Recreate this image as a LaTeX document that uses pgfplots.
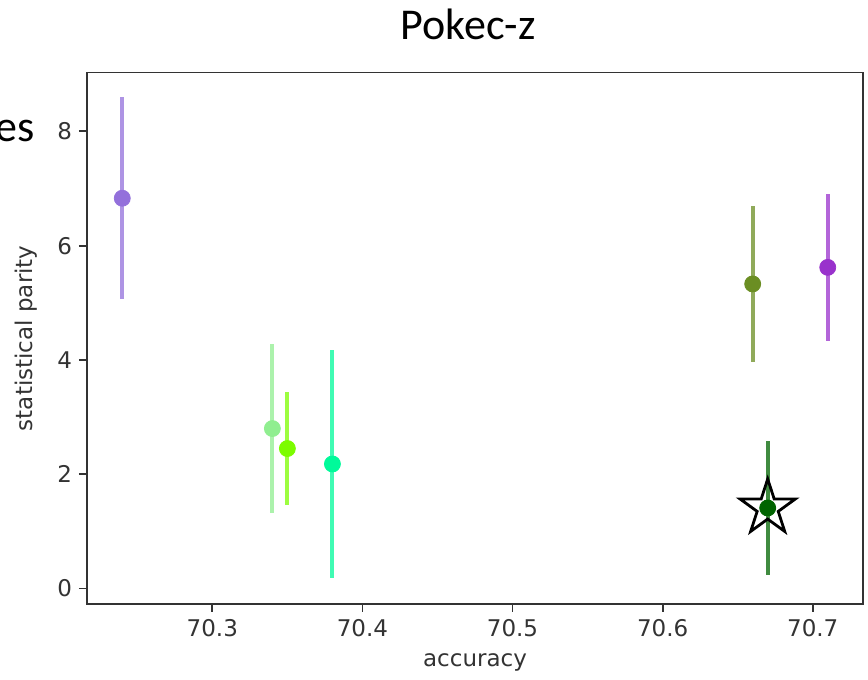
\documentclass[border=0pt]{standalone}
\usepackage{fontspec}
\setmainfont{DejaVu Sans}
\newfontfamily\titlefont{Carlito}
\usepackage{pgfplots}
\pgfplotsset{compat=1.18}

\definecolor{cpurple}{HTML}{9370DB}
\definecolor{clgreen}{HTML}{90EE90}
\definecolor{clawn}{HTML}{7CFC00}
\definecolor{cspring}{HTML}{00FA9A}
\definecolor{colive}{HTML}{6B8E23}
\definecolor{corchid}{HTML}{9932CC}
\definecolor{cdgreen}{HTML}{006400}

% open five-pointed star (outline only)
\pgfdeclareplotmark{ostar}{%
  \pgfpathmoveto{\pgfpointpolar{90}{\pgfplotmarksize}}%
  \pgfpathlineto{\pgfpointpolar{126}{0.382\pgfplotmarksize}}%
  \pgfpathlineto{\pgfpointpolar{162}{\pgfplotmarksize}}%
  \pgfpathlineto{\pgfpointpolar{198}{0.382\pgfplotmarksize}}%
  \pgfpathlineto{\pgfpointpolar{234}{\pgfplotmarksize}}%
  \pgfpathlineto{\pgfpointpolar{270}{0.382\pgfplotmarksize}}%
  \pgfpathlineto{\pgfpointpolar{306}{\pgfplotmarksize}}%
  \pgfpathlineto{\pgfpointpolar{342}{0.382\pgfplotmarksize}}%
  \pgfpathlineto{\pgfpointpolar{18}{\pgfplotmarksize}}%
  \pgfpathlineto{\pgfpointpolar{54}{0.382\pgfplotmarksize}}%
  \pgfpathclose
  \pgfusepathqstroke
}

\pgfplotsset{
  ebar/.style={only marks, mark=*, mark size=4pt, color=#1,
    error bars/.cd, y dir=both, y explicit, error mark=none,
    error bar style={line width=2pt, draw=#1, draw opacity=0.75}},
}

\begin{document}
\begin{tikzpicture}
\useasboundingbox (-43.5pt,-38pt) rectangle (390.5pt,302pt);
\begin{axis}[
  at={(0,0)}, anchor=south west,
  scale only axis, width=388pt, height=265.75pt,
  xmin=70.2165, xmax=70.7335,
  ymin=-0.27, ymax=9.03,
  xtick={70.3,70.4,70.5,70.6,70.7},
  ytick={0,2,4,6,8},
  xticklabel style={/pgf/number format/.cd, fixed, precision=1, fixed zerofill},
  /pgf/number format/assume math mode=true,
  tick label style={font=\fontsize{11.5}{13}\selectfont, text=black!80},
  label style={font=\fontsize{11.5}{13}\selectfont, text=black!80},
  tick align=outside, major tick length=4pt,
  xtick pos=bottom, ytick pos=left,
  every tick/.style={black!80, line width=0.9pt},
  axis line style={black!80, line width=0.9pt},
  xlabel={accuracy},
  ylabel={statistical parity},
  xlabel style={at={(axis description cs:0.5,-0.11)}, anchor=center},
  ylabel style={at={(axis description cs:-0.078,0.5)}, anchor=center},
  clip=false,
]
\addplot[ebar=cpurple] coordinates {(70.24,6.83) +- (0,1.77)};
\addplot[ebar=clgreen] coordinates {(70.34,2.80) +- (0,1.48)};
\addplot[ebar=clawn] coordinates {(70.35,2.45) +- (0,0.99)};
\addplot[ebar=cspring] coordinates {(70.38,2.18) +- (0,2.00)};
\addplot[ebar=colive] coordinates {(70.66,5.33) +- (0,1.37)};
\addplot[ebar=corchid] coordinates {(70.71,5.62) +- (0,1.29)};
\addplot[ebar=cdgreen] coordinates {(70.67,1.41) +- (0,1.18)};
% best result marker
\addplot[only marks, mark=ostar, mark size=14.5pt,
  mark options={draw=black, line width=1.4pt, fill=none}] coordinates {(70.67,1.41)};
\end{axis}
\node[font=\titlefont\fontsize{22}{26}\selectfont, anchor=base] at (190.5pt,282pt) {Pokec-z};
\node[font=\titlefont\fontsize{22}{26}\selectfont, anchor=base east, inner sep=0pt] at (-26pt,231pt) {es};
\end{tikzpicture}
\end{document}
